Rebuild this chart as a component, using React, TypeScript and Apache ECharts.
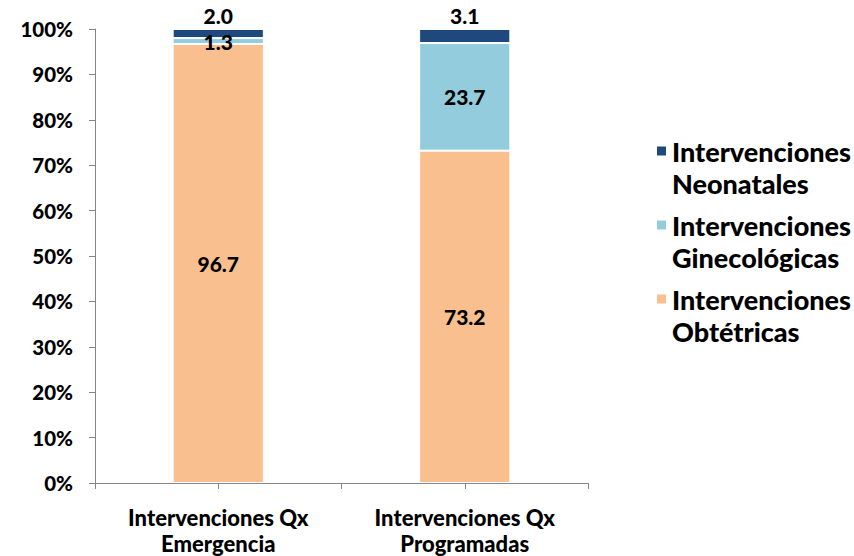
import React, { useEffect, useRef } from "react";
import * as echarts from "echarts";

const categories = ["Intervenciones Qx\nEmergencia", "Intervenciones Qx\nProgramadas"];
const obstetricas = [96.7, 73.2];
const ginecologicas = [1.3, 23.7];
const neonatales = [2.0, 3.1];
const seriesNames = ["Intervenciones\nObtétricas", "Intervenciones\nGinecológicas", "Intervenciones\nNeonatales"];
const yTicks = [0, 10, 20, 30, 40, 50, 60, 70, 80, 90, 100];

const FONT = "Lato";
const WEIGHT = 900;

export default function App() {
  const ref = useRef<HTMLDivElement>(null);
  useEffect(() => {
    if (!ref.current) return;
    const chart = echarts.init(ref.current, null, { renderer: "svg" });
    const labelBase = {
      show: true,
      color: "#000",
      fontFamily: FONT,
      fontWeight: WEIGHT,
      fontSize: 21,
      formatter: (p: any) => Number(p.value).toFixed(1),
    };
    chart.setOption({
      animation: false,
      backgroundColor: "#fff",
      grid: { left: 95, right: 266, top: 29, bottom: 71, containLabel: false },
      legend: {
        orient: "vertical",
        left: 655,
        top: 103,
        padding: 0,
        itemGap: -22,
        itemWidth: 11,
        itemHeight: 11,
        icon: "rect",
        data: [seriesNames[2], seriesNames[1], seriesNames[0]],
        formatter: (name: string) => " \n" + name,
        textStyle: {
          fontFamily: FONT,
          fontWeight: WEIGHT,
          fontSize: 27,
          color: "#000",
          lineHeight: 32,
        },
      },
      xAxis: [
        {
          type: "category",
          data: categories,
          axisLine: { lineStyle: { color: "#868686", width: 1 } },
          axisTick: { show: true, length: 6, lineStyle: { color: "#868686" } },
          axisLabel: {
            color: "#000",
            fontFamily: FONT,
            fontWeight: WEIGHT,
            fontSize: 22,
            lineHeight: 26,
            margin: 21,
          },
        },
        {
          type: "value",
          min: 0,
          max: 4,
          interval: 1,
          position: "bottom",
          axisLine: { show: false },
          axisTick: { show: true, length: 6, lineStyle: { color: "#868686" } },
          axisLabel: { show: false },
          splitLine: { show: false },
        },
      ],
      yAxis: {
        type: "value",
        min: 0,
        max: 100,
        interval: 10,
        axisLine: { show: true, lineStyle: { color: "#868686", width: 1 } },
        axisTick: { show: true, length: 6, lineStyle: { color: "#868686" } },
        splitLine: { show: false },
        axisLabel: {
          color: "#000",
          fontFamily: FONT,
          fontWeight: WEIGHT,
          fontSize: 20.5,
          margin: 22,
          formatter: (v: number) => (yTicks.includes(v) ? `${v}%` : ""),
        },
      },
      series: [
        {
          name: seriesNames[0],
          type: "bar",
          stack: "total",
          barWidth: "37%",
          data: obstetricas,
          itemStyle: { color: "#F9BF8F", borderColor: "#fff", borderWidth: 1 },
          label: { ...labelBase, position: "inside" },
        },
        {
          name: seriesNames[1],
          type: "bar",
          stack: "total",
          data: ginecologicas,
          itemStyle: { color: "#93CDDD", borderColor: "#fff", borderWidth: 1 },
          label: { ...labelBase, position: "inside" },
        },
        {
          name: seriesNames[2],
          type: "bar",
          stack: "total",
          data: neonatales,
          itemStyle: { color: "#1F497D", borderColor: "#fff", borderWidth: 1 },
          label: { ...labelBase, position: "top", distance: 3 },
        },
      ],
    });
    return () => chart.dispose();
  }, []);
  return (
    <div
      ref={ref}
      style={{ position: "absolute", left: 0, top: 0, width: 854, height: 556 }}
    />
  );
}
